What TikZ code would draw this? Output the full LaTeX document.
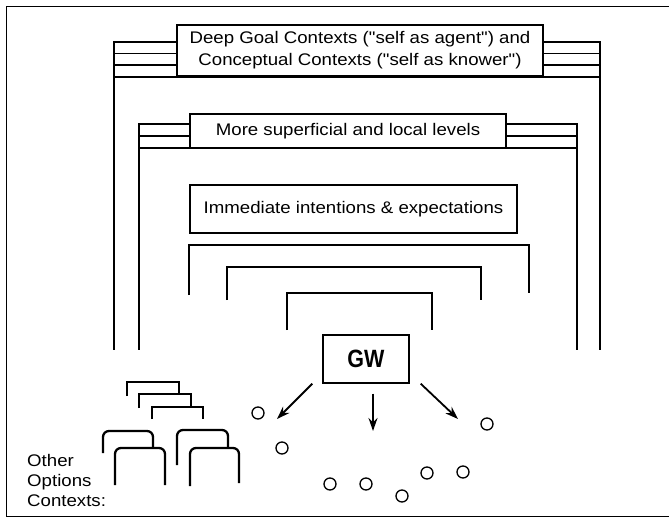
\documentclass[tikz,border=0pt]{standalone}
\usepackage{fontspec}
\setmainfont[FakeStretch=1.11]{Liberation Sans}
\newfontfamily\ctxfont[FakeStretch=1.11]{Liberation Sans}
\newfontfamily\gwfont[FakeStretch=0.86]{Liberation Sans}
\usetikzlibrary{arrows.meta}
\tikzset{
  frameline/.style={line width=1.7pt},
  ctxbox/.style={draw, line width=1.4pt, fill=white, inner sep=0pt, align=center,
    font=\ctxfont\fontsize{16.8}{22}\selectfont},
  bracket/.style={line width=2.3pt},
  optbracket/.style={line width=2.3pt, rounded corners=6pt},
  flow/.style={-{Stealth[length=13pt,width=9pt]}, line width=1.8pt},
  optdot/.style={draw, circle, line width=1.3pt, minimum size=12pt, inner sep=0pt}
}

\begin{document}
\begin{tikzpicture}[x=1pt, y=-1pt]
  \useasboundingbox (0,0) rectangle (669,519);
  % page frame
  \draw[line width=1pt] (669,7) -- (6,7) -- (6,516) -- (669,516);

  % deep contexts
  \draw[frameline] (177,42) -- (114,42) -- (114,350);
  \draw[frameline] (114,53.5) -- (177,53.5);
  \draw[frameline] (114,65) -- (177,65);
  \draw[frameline] (114,77) -- (600,77);
  \draw[frameline] (543,42) -- (600,42) -- (600,350);
  \draw[frameline] (543,53.5) -- (600,53.5);
  \draw[frameline] (543,65) -- (600,65);
  \node[ctxbox, minimum width=366pt, minimum height=51pt] (deep) at (360,50.5)
    {Deep Goal Contexts ("self as agent") and\\Conceptual Contexts ("self as knower")};

  % superficial levels
  \draw[frameline] (190,124) -- (139,124) -- (139,350);
  \draw[frameline] (139,136) -- (190,136);
  \draw[frameline] (139,148) -- (577,148);
  \draw[frameline] (506,124) -- (577,124) -- (577,350);
  \draw[frameline] (506,136) -- (577,136);
  \node[ctxbox, minimum width=316pt, minimum height=34pt] (local) at (348,131)
    {More superficial and local levels};

  % immediate
  \node[ctxbox, minimum width=327pt, minimum height=48pt] (immediate) at (353.5,209)
    {Immediate intentions \& expectations};
  \draw[bracket] (189,295) -- (189,245) -- (529,245) -- (529,293);
  \draw[bracket] (227,300) -- (227,267) -- (481,267) -- (481,300);
  \draw[bracket] (287,330) -- (287,293) -- (432,293) -- (432,330);

  % global workspace
  \node[draw, line width=1.4pt, minimum width=86pt, minimum height=48pt, inner sep=0pt,
    font=\gwfont\fontsize{25}{25}\selectfont\bfseries] (gw) at (366,359) {GW};
  \coordinate (tipL) at (277,419);
  \coordinate (tipM) at (373,431);
  \coordinate (tipR) at (458,419);
  \draw[flow] ([xshift=-10pt]gw.south west) -- (tipL);
  \draw[flow] ([xshift=7pt, yshift=-10pt]gw.south) -- (tipM);
  \draw[flow] ([xshift=11pt]gw.south east) -- (tipR);

  % receiving processors
  \node[optdot] (o1) at (258,413) {};
  \node[optdot] (o2) at (282,448) {};
  \node[optdot] (o3) at (330,484) {};
  \node[optdot] (o4) at (366,484) {};
  \node[optdot] (o5) at (402,496) {};
  \node[optdot] (o6) at (427,473) {};
  \node[optdot] (o7) at (463,472) {};
  \node[optdot] (o8) at (487,424) {};

  % other options contexts
  \draw[bracket] (127,396) -- (127,382) -- (179,382) -- (179,394);
  \draw[bracket] (139,408) -- (139,394) -- (191,394) -- (191,407);
  \draw[bracket] (152,419) -- (152,407) -- (203,407) -- (203,419);
  \draw[optbracket] (103,453) -- (103,431) -- (153,431) -- (153,447);
  \draw[optbracket] (115,485) -- (115,448) -- (165,448) -- (165,485);
  \draw[optbracket] (177,465) -- (177,430) -- (228,430) -- (228,448);
  \draw[optbracket] (190,486) -- (190,448) -- (239,448) -- (239,483);
  \node[anchor=north west, align=left, inner sep=0pt,
    font=\ctxfont\fontsize{16.8}{20}\selectfont] (others) at (27,454)
    {Other\\Options\\Contexts:};
\end{tikzpicture}
\end{document}
